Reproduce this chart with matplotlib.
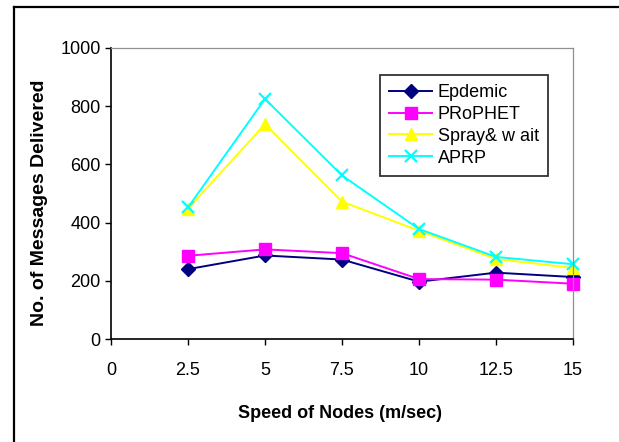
import matplotlib
matplotlib.use("Agg")
import matplotlib.pyplot as plt
from matplotlib.lines import Line2D

plt.rcParams.update({
    "font.family": ["Liberation Sans", "DejaVu Sans"],
    "font.size": 13,
})

speeds = [2.5, 5, 7.5, 10, 12.5, 15]
epidemic = [240, 287, 273, 197, 228, 213]
prophet = [286, 308, 295, 206, 204, 190]
spray_wait = [448, 738, 472, 372, 275, 244]
aprp = [452, 825, 562, 378, 282, 257]

xticks = [0, 2.5, 5, 7.5, 10, 12.5, 15]
xtick_labels = ["0", "2.5", "5", "7.5", "10", "12.5", "15"]
yticks = [0, 200, 400, 600, 800, 1000]

series = [
    ("Epdemic", epidemic, "#000080", "D", 7),
    ("PRoPHET", prophet, "#ff00ff", "s", 8),
    ("Spray& w ait", spray_wait, "#ffff00", "^", 9),
    ("APRP", aprp, "#00ffff", "x", 8),
]

W, H = 619, 442
fig = plt.figure(figsize=(W / 100, H / 100), dpi=100)
ax = fig.add_axes([111 / W, 1 - 339 / H, (573 - 111) / W, (339 - 48) / H])

for name, vals, col, mk, ms in series:
    ax.plot(speeds, vals, color=col, marker=mk, markersize=ms, linewidth=1.4,
            markeredgewidth=1.6 if mk == "x" else 1.0, label=name, clip_on=False)

ax.set_xlim(0, 15)
ax.set_ylim(0, 1000)
ax.set_xticks(xticks)
ax.set_xticklabels(xtick_labels)
ax.set_yticks(yticks)

ax.spines["left"].set_linewidth(1.2)
ax.spines["bottom"].set_linewidth(1.2)
for s in ("top", "right"):
    ax.spines[s].set_color("#909090")
    ax.spines[s].set_linewidth(0.9)

ax.tick_params(axis="x", direction="out", length=4.5, width=1.0, pad=12, labelsize=13)
ax.tick_params(axis="y", direction="out", length=4, width=1.0, pad=3.5, labelsize=13)

fig.text(340 / W, 1 - 413 / H, "Speed of Nodes (m/sec)", ha="center", va="center",
         fontsize=13, fontweight="bold")
fig.text(39 / W, 1 - 203 / H, "No. of Messages Delivered", ha="center", va="center",
         rotation=90, fontsize=14, fontweight="bold")

leg = ax.legend(loc="upper left", bbox_to_anchor=((380 - 111) / 462, (339 - 75) / 291),
                fontsize=13, frameon=True, fancybox=False, shadow=False,
                handlelength=2.4, handletextpad=0.3, labelspacing=0.27,
                borderpad=0.5, borderaxespad=0)
leg.get_frame().set_edgecolor("black")
leg.get_frame().set_linewidth(1.3)

# outer chart frame (cropped at right and bottom)
fig.add_artist(Line2D([14 / W, 1], [1 - 7 / H, 1 - 7 / H], color="black", linewidth=1.6))
fig.add_artist(Line2D([14 / W, 14 / W], [0, 1 - 7 / H], color="black", linewidth=1.6))

fig.savefig("out.png", dpi=100)
